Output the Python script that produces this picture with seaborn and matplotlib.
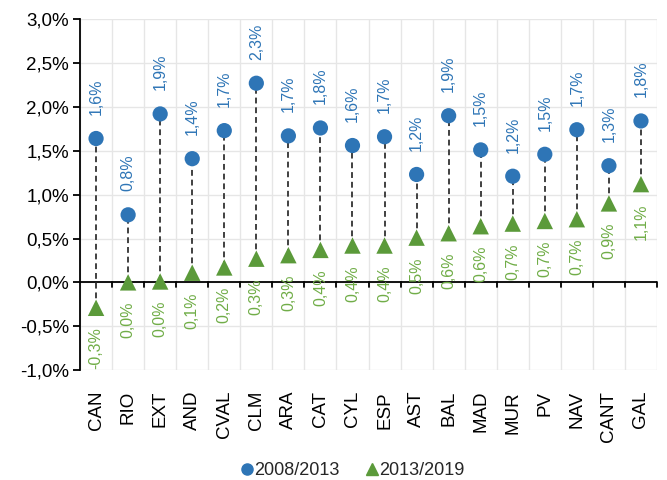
import matplotlib
matplotlib.use("Agg")
import matplotlib.pyplot as plt
import seaborn as sns
import pandas as pd
import numpy as np
from matplotlib.ticker import FuncFormatter, MultipleLocator
from matplotlib.lines import Line2D

categories = ["CAN", "RIO", "EXT", "AND", "CVAL", "CLM", "ARA", "CAT", "CYL",
              "ESP", "AST", "BAL", "MAD", "MUR", "PV", "NAV", "CANT", "GAL"]
s2008_2013 = [1.64, 0.77, 1.92, 1.41, 1.73, 2.27, 1.67, 1.76, 1.56,
              1.66, 1.23, 1.90, 1.51, 1.21, 1.46, 1.74, 1.33, 1.84]
s2013_2019 = [-0.29, 0.00, 0.01, 0.11, 0.17, 0.27, 0.31, 0.37, 0.42,
              0.42, 0.51, 0.56, 0.64, 0.67, 0.70, 0.72, 0.90, 1.12]
series_names = ["2008/2013", "2013/2019"]

BLUE = "#2E75B6"
GREEN_M = "#5B9A3A"
GREEN_T = "#70AD47"

sns.set_theme(style="white")
plt.rcParams["font.family"] = ["Liberation Sans", "DejaVu Sans"]

df = pd.DataFrame({"cat": categories, "a": s2008_2013, "b": s2013_2019})

fig = plt.figure(figsize=(6.67, 4.8), dpi=100)
ax = fig.add_axes([0.12, 0.229, 0.865, 0.731])

n = len(categories)
xpos = np.arange(n)

# dashed connectors
ax.vlines(xpos, df["b"], df["a"], colors="#404040", linestyles=(0, (3, 2)), linewidth=1.4, zorder=2)

sns.scatterplot(data=df, x="cat", y="a", ax=ax, color=BLUE, marker="o", s=120,
                edgecolor="none", zorder=3, legend=False)
sns.scatterplot(data=df, x="cat", y="b", ax=ax, color=GREEN_M, marker="^", s=140,
                edgecolor="none", zorder=3, legend=False)

fmt = lambda v: f"{v:.1f}".replace(".", ",") + "%"
for i, (va, vb) in enumerate(zip(s2008_2013, s2013_2019)):
    ax.annotate(fmt(va), (i, va), xytext=(0, 17), textcoords="offset points",
                rotation=90, ha="center", va="bottom", color=BLUE, fontsize=11.5)
    ax.annotate(fmt(vb), (i, vb), xytext=(0, -14), textcoords="offset points",
                rotation=90, ha="center", va="top", color=GREEN_T, fontsize=11.5)

ax.set_xlim(-0.5, n - 0.5)
ax.set_ylim(-1.0, 3.0)
ax.yaxis.set_major_locator(MultipleLocator(0.5))
ax.yaxis.set_major_formatter(FuncFormatter(lambda v, p: f"{v:.1f}".replace(".", ",") + "%"))

# grid
ax.set_axisbelow(True)
ax.grid(False)
for yv in np.arange(-1.0, 3.01, 0.5):
    ax.axhline(yv, color="#E6E6E6", linewidth=1.0, zorder=0)
for xv in np.arange(-0.5, n, 1.0):
    ax.axvline(xv, color="#E6E6E6", linewidth=1.0, zorder=0)

# zero line with ticks
ax.axhline(0, color="black", linewidth=1.3, zorder=1)
for xv in np.arange(0.5, n, 1.0):
    ax.plot([xv, xv], [0, -0.055], color="black", linewidth=1.3, zorder=1, clip_on=False)

for sp in ["top", "right", "bottom"]:
    ax.spines[sp].set_visible(False)
ax.spines["left"].set_color("black")
ax.spines["left"].set_linewidth(1.3)
ax.tick_params(axis="y", which="major", left=True, length=5, width=1.3, color="black",
               labelsize=13.5, labelcolor="black", pad=3)
ax.tick_params(axis="x", bottom=False, labelsize=13.5, labelcolor="black", pad=9)
ax.set_xticks(xpos)
ax.set_xticklabels(categories, rotation=90)
ax.set_xlabel("")
ax.set_ylabel("")

handles = [Line2D([], [], linestyle="none", marker="o", color=BLUE, markersize=8),
           Line2D([], [], linestyle="none", marker="^", color=GREEN_M, markersize=8)]
fig.legend(handles, series_names, loc="center", bbox_to_anchor=(0.527, 0.019), ncol=2,
           frameon=False, fontsize=13, handletextpad=-0.1, columnspacing=1.3, handlelength=1.0)

fig.savefig("out.png", dpi=100)
